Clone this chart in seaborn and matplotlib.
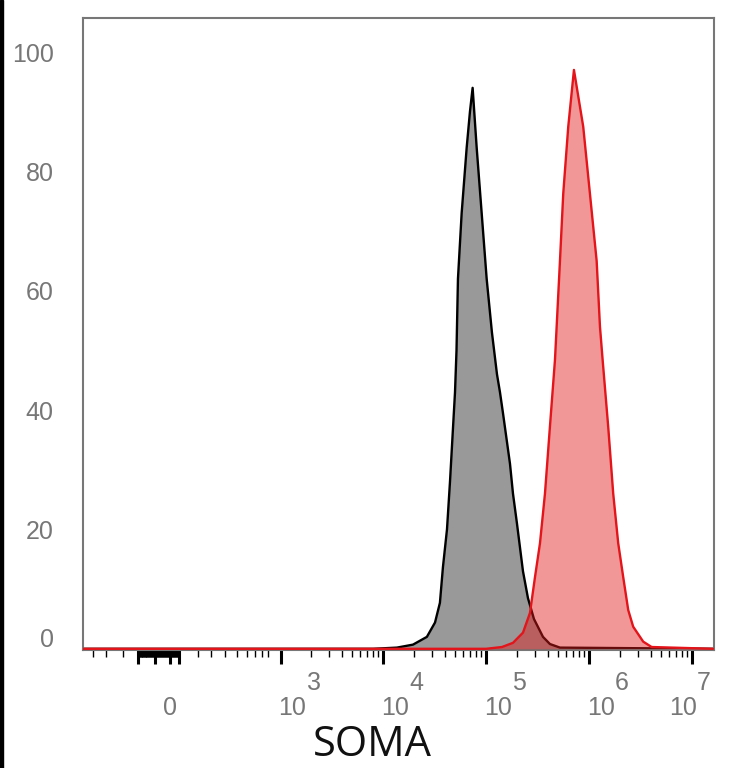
import numpy as np
import pandas as pd
import matplotlib
matplotlib.use("Agg")
import matplotlib.pyplot as plt
import matplotlib.transforms as mtransforms
from matplotlib.patches import Rectangle
import seaborn as sns

# values (x = SOMA intensity, y = % of max)
gray_x = [-580, 8000, 13600, 19500, 26600, 31900, 35600, 38100, 41700, 44600,
          47700, 49900, 51600, 53300, 57900, 64800, 69700, 74000, 81000, 90600,
          101300, 114000, 127600, 136400, 145900, 170700, 182500, 199500, 228200,
          255100, 291700, 357000, 417000, 522000, 1.6e7]
gray_y = [0, 0, 0.2, 0.7, 2.0, 4.4, 7.7, 13.7, 20, 28,
          37, 43, 50, 62, 73, 84, 90, 94, 84, 73,
          62, 53, 46, 43, 39.5, 31, 26, 21, 13,
          8.5, 5, 2, 0.8, 0.2, 0]

red_x = [-580, 100000, 142700, 182500, 228200, 266800, 298500, 333900, 373200,
         417000, 466800, 484800, 522000, 561900, 628400, 713700, 878200, 1020000,
         1186000, 1277000, 1356000, 1536000, 1718000, 1921000, 2149000, 2403000,
         2686000, 3360000, 4056000, 1.6e7]
red_y = [0, 0, 0.3, 1.0, 2.7, 6, 12, 17.7, 26,
         37.2, 48.4, 54, 65, 76.3, 87.5, 97, 87.5, 76.3,
         65, 54, 48.4, 37.2, 26, 17.7, 12, 6.5,
         3.7, 1.2, 0.3, 0]

y_ticks = [0, 20, 40, 60, 80, 100]
decades = [3, 4, 5, 6, 7]

# tick positions of the cytometry axis
near_zero_long = [-130, -58, 0, 35]
near_zero_block = list(range(-126, 34, 6))
low_minor = [-460, -335, -213, 115, 180, 265, 360, 460, 555, 655, 750]

df_gray = pd.DataFrame({"x": gray_x, "y": gray_y})
df_red = pd.DataFrame({"x": red_x, "y": red_y})

sns.set_theme(style="white")
plt.rcParams['font.family'] = ['Liberation Sans', 'DejaVu Sans']

fig = plt.figure(figsize=(7.34, 7.68), dpi=100)
ax = fig.add_axes([83 / 734, 1 - 650 / 768, 631 / 734, 632 / 768])

# arcsinh (biexponential-like) axis as used for cytometry data
C = 170.0
ax.set_xscale('function', functions=(lambda v: np.arcsinh(np.asarray(v) / C),
                                     lambda u: C * np.sinh(np.asarray(u))))

ax.fill_between(df_gray["x"], df_gray["y"], color="#999999", linewidth=0, zorder=1)
sns.lineplot(data=df_gray, x="x", y="y", color="black", linewidth=1.7, ax=ax,
             sort=False, zorder=2)
ax.fill_between(df_red["x"], df_red["y"], color=(225 / 255, 25 / 255, 25 / 255),
                alpha=0.45, linewidth=0, zorder=3)
sns.lineplot(data=df_red, x="x", y="y", color="#e3141a", linewidth=1.7, ax=ax,
             sort=False, zorder=4)

ax.set_xlim(-583, 1.637e7)
ax.set_ylim(-0.2, 105.7)

# x ticks: long ones (decades + near-zero legs) and short ones
long_ticks = near_zero_long + [10 ** d for d in decades]
short_ticks = low_minor + [t for t in near_zero_block if t not in near_zero_long]
for d in [3, 4, 5, 6]:
    short_ticks += [k * 10 ** d for k in range(2, 10)]
ax.xaxis.set_major_locator(matplotlib.ticker.FixedLocator(sorted(long_ticks)))
ax.xaxis.set_minor_locator(matplotlib.ticker.FixedLocator(sorted(short_ticks)))
ax.xaxis.set_major_formatter(matplotlib.ticker.NullFormatter())
ax.xaxis.set_minor_formatter(matplotlib.ticker.NullFormatter())
ax.tick_params(axis='x', which='major', direction='out', length=10, width=2.2,
               color='black', bottom=True)
ax.tick_params(axis='x', which='minor', direction='out', length=5, width=1.0,
               color='black', bottom=True)
ax.set_xlabel("")
ax.set_ylabel("")

# x tick labels: "0" and 10 with a big raised exponent
blend = mtransforms.blended_transform_factory(ax.transData, ax.transAxes)
lab_kw = dict(fontsize=18, color="#777777", ha="center", va="center")
ax.text(0, -0.0918, "0", transform=blend, **lab_kw)
for d in decades:
    dx = -9 if d == 7 else 12
    t1 = mtransforms.offset_copy(blend, fig=fig, x=dx, y=0, units='dots')
    t2 = mtransforms.offset_copy(blend, fig=fig, x=dx + 21, y=0, units='dots')
    ax.text(10 ** d, -0.0918, "10", transform=t1, **lab_kw)
    ax.text(10 ** d, -0.052, str(d), transform=t2, **lab_kw)

# y ticks
ax.set_yticks(y_ticks)
ax.set_yticklabels([str(v) for v in y_ticks])
ax.tick_params(axis='y', length=0, pad=21, labelsize=18, labelcolor="#777777")
for lab in ax.get_yticklabels():
    if lab.get_text() == "0":
        lab.set_transform(lab.get_transform() +
                          mtransforms.ScaledTranslation(0, 11 / 100, fig.dpi_scale_trans))

for s in ax.spines.values():
    s.set_color("#777777")
    s.set_linewidth(1.5)

fig.text(372 / 734, 1 - 745 / 768, "SOMA", ha="center", va="center",
         fontsize=30, family="Open Sans", color="#111111")

fig.add_artist(Rectangle((0, 0), 3 / 734, 1, transform=fig.transFigure,
                         color="black", zorder=10))

# thicken the short ticks packed around zero so they merge into a block
fig.canvas.draw()
for tick in ax.xaxis.get_minor_ticks():
    if -130 <= tick.get_loc() <= 40:
        tick.tick1line.set_markeredgewidth(2.2)

fig.savefig("out.png", dpi=100)
